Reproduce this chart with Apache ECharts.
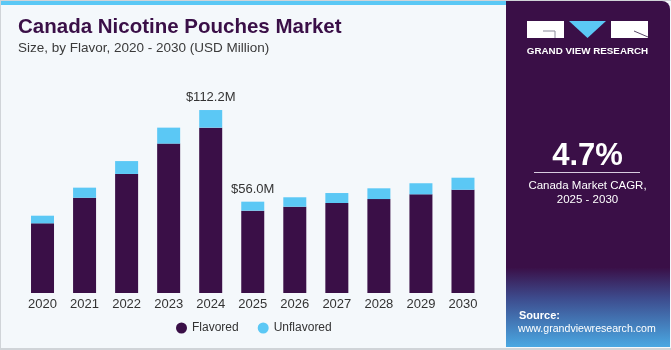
<!DOCTYPE html>
<html>
<head>
<meta charset="utf-8">
<script src="https://cdn.jsdelivr.net/npm/echarts@6/dist/echarts.min.js"></script>
<style>
html,body{margin:0;padding:0;background:#f4f8fb;}
#c{width:671px;height:350px;}
</style>
</head>
<body>
<div id="c"></div>
<script>
var categories = ['2020','2021','2022','2023','2024','2025','2026','2027','2028','2029','2030'];
var flavored = [42.7, 58.4, 73.0, 91.6, 101.4, 50.5, 52.9, 55.2, 57.6, 60.5, 63.3];
var unflavored = [4.7, 6.2, 7.9, 9.8, 10.8, 5.5, 5.8, 6.1, 6.6, 6.8, 7.4];
var totalLabels = ['', '', '', '', '$112.2M', '$56.0M', '', '', '', '', ''];
var seriesNames = ['Flavored', 'Unflavored'];

var chart = echarts.init(document.getElementById('c'), null, {renderer: 'canvas'});
var FONT = 'Liberation Sans, Arial, sans-serif';
var PURPLE = '#3a0f47';
var CYAN = '#5bc8f5';

var option = {
  backgroundColor: '#f4f8fb',
  animation: false,
  textStyle: {fontFamily: FONT},
  title: [{
    text: 'Canada Nicotine Pouches Market',
    left: 13, top: 12,
    textStyle: {fontFamily: FONT, fontWeight: 'bold', fontSize: 20.5, color: PURPLE}
  }, {
    text: 'Size, by Flavor, 2020 - 2030 (USD Million)',
    left: 13, top: 36,
    textStyle: {fontFamily: FONT, fontWeight: 'normal', fontSize: 13.5, color: '#3a3a3a'}
  }],
  legend: {
    data: seriesNames,
    bottom: 11, left: 171,
    icon: 'circle', itemWidth: 11, itemHeight: 11, itemGap: 19,
    textStyle: {fontFamily: FONT, fontSize: 12, color: '#333'}
  },
  grid: {left: 21.5, right: 187, top: 81, bottom: 57},
  xAxis: {
    type: 'category', data: categories,
    axisLine: {show: false}, axisTick: {show: false},
    axisLabel: {margin: 5, fontFamily: FONT, fontSize: 13, color: '#333'}
  },
  yAxis: {type: 'value', min: 0, max: 130, show: false, splitLine: {show: false}},
  series: [{
    name: seriesNames[0], type: 'bar', stack: 'a', barWidth: 23,
    data: flavored,
    itemStyle: {color: PURPLE}
  }, {
    name: seriesNames[1], type: 'bar', stack: 'a', barWidth: 23,
    data: unflavored.map(function (v, i) {
      return {value: v, label: {show: totalLabels[i] !== ''}};
    }),
    itemStyle: {color: CYAN},
    label: {
      position: 'top', distance: 6,
      fontFamily: FONT, fontSize: 13, color: '#333',
      formatter: function (p) { return totalLabels[p.dataIndex]; }
    }
  }],
  graphic: [
    {type: 'rect', shape: {x: 0, y: 0, width: 671, height: 1}, style: {fill: '#d0d4d8'}, silent: true},
    {type: 'rect', shape: {x: 0, y: 1, width: 506, height: 4}, style: {fill: CYAN}, silent: true},
    {type: 'rect', shape: {x: 0, y: 1, width: 1, height: 348}, style: {fill: '#d0d4d8'}, silent: true},
    {type: 'rect', shape: {x: 0, y: 348, width: 671, height: 2}, style: {fill: '#d0d4d8'}, silent: true},
    {type: 'rect', shape: {x: 506, y: 1, width: 164, height: 346, r: [0, 8, 0, 0]},
      style: {fill: new echarts.graphic.LinearGradient(0, 0, 0, 1, [
        {offset: 0, color: '#3a0f47'},
        {offset: 0.77, color: '#3a0f47'},
        {offset: 0.86, color: '#3d4c8e'},
        {offset: 1, color: '#4aa8e2'}
      ])}, silent: true},
    {type: 'rect', shape: {x: 527, y: 21, width: 37, height: 17}, style: {fill: '#ffffff'}, silent: true},
    {type: 'polyline', shape: {points: [[543, 31], [555, 31], [555, 38]]}, style: {stroke: '#8a8a9a', lineWidth: 1, fill: null}, silent: true},
    {type: 'polygon', shape: {points: [[569, 21], [606, 21], [587.5, 38]]}, style: {fill: CYAN}, silent: true},
    {type: 'rect', shape: {x: 611, y: 21, width: 37, height: 17}, style: {fill: '#ffffff'}, silent: true},
    {type: 'line', shape: {x1: 634, y1: 31, x2: 648, y2: 37}, style: {stroke: '#5a4a6a', lineWidth: 1}, silent: true},
    {type: 'text', x: 587.5, y: 51, style: {text: 'GRAND VIEW RESEARCH', fill: '#ffffff', font: 'bold 9.8px ' + FONT, align: 'center', verticalAlign: 'middle'}, silent: true},
    {type: 'text', x: 587.5, y: 156, style: {text: '4.7%', fill: '#ffffff', font: 'bold 31px ' + FONT, align: 'center', verticalAlign: 'middle'}, silent: true},
    {type: 'rect', shape: {x: 534, y: 172, width: 106, height: 1}, style: {fill: '#d8cce0'}, silent: true},
    {type: 'text', x: 587.5, y: 186, style: {text: 'Canada Market CAGR,', fill: '#ffffff', font: '11.5px ' + FONT, align: 'center', verticalAlign: 'middle'}, silent: true},
    {type: 'text', x: 587.5, y: 200, style: {text: '2025 - 2030', fill: '#ffffff', font: '11.5px ' + FONT, align: 'center', verticalAlign: 'middle'}, silent: true},
    {type: 'text', x: 519, y: 316, style: {text: 'Source:', fill: '#ffffff', font: 'bold 11px ' + FONT, align: 'left', verticalAlign: 'middle'}, silent: true},
    {type: 'text', x: 518, y: 329, style: {text: 'www.grandviewresearch.com', fill: '#ffffff', font: '10.6px ' + FONT, align: 'left', verticalAlign: 'middle'}, silent: true}
  ]
};
chart.setOption(option);
</script>
</body>
</html>
